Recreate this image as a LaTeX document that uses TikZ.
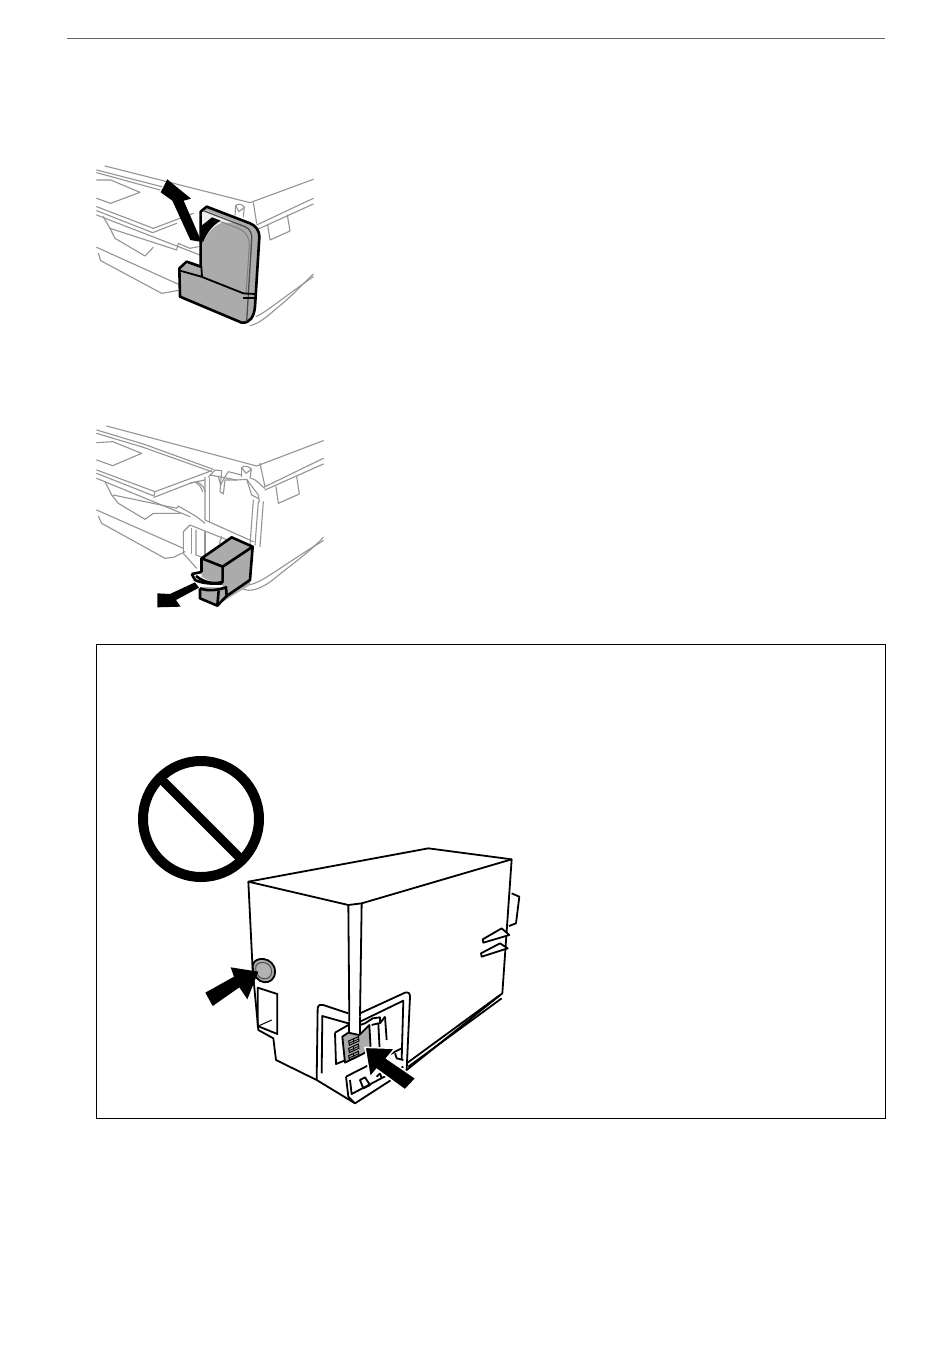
\documentclass[tikz,border=0pt]{standalone}
\tikzset{
 gl/.style={draw=black!42,line width=1.1pt,line join=round,line cap=round},
 bl/.style={draw=black,line width=1.8pt,line join=round},
 bk/.style={draw=black,line width=2.6pt,line join=round},
 arrowfill/.style={fill=black,draw=none},
 zoomed/.style={x=1pt/3,y=-1pt/3}
}
\begin{document}
\begin{tikzpicture}[x=1pt,y=-1pt]
\useasboundingbox (0,0) rectangle (950,1370);
\fill[white] (0,0) rectangle (950,1370);
\draw[black!60,line width=0.8pt] (67,38) -- (885,38);
\draw[black,line width=0.9pt] (96.5,644.5) rectangle (885,1118);
% --- figure 1
\begin{scope}[shift={(90,160)},zoomed]
\draw[gl] (45,18) -- (480,128) -- (670,58);
\draw[gl] (20,30) -- (215,80);
\draw[gl] (20,38) -- (210,90);
\draw[gl] (20,60) -- (62,60) -- (150,97) -- (62,130) -- (20,115);
\draw[gl] (20,140) -- (190,205) -- (310,160);
\draw[gl] (20,152) -- (188,218) -- (260,190);
\draw[gl] (20,165) -- (330,285);
\draw[gl] (40,170) -- (60,205) -- (75,235) -- (165,288) -- (190,262);
\draw[gl] (60,205) -- (260,270) -- (265,250) -- (300,265) -- (325,260);
\draw[gl] (20,262) -- (270,375);
\draw[gl] (25,280) -- (32,302) -- (215,400) -- (245,395) -- (270,390);
\draw[gl] (490,128) -- (500,190);
\draw[gl] (500,195) -- (670,115);
\draw[gl] (505,207) -- (670,132);
\draw[gl] (533,195) -- (540,240) -- (600,213) -- (592,165);
\draw[gl] (435,165) -- (437,137) .. controls (445,130) and (458,132) .. (463,142) -- (460,170);
\draw[gl] (437,137) -- (447,155) -- (463,142);
\draw[gl] (480,497) .. controls (510,490) and (530,470) .. (560,445) .. controls (610,405) and (640,370) .. (670,342);
\draw[gl] (498,470) .. controls (530,455) and (570,420) .. (670,350);
% tank: whole outline filled
\path[fill=black!33] (330,315) -- (305,305) -- (268,325) -- (270,410) -- (455,488) .. controls (480,490) and (492,470) .. (495,440) -- (508,230) .. controls (508,210) and (495,195) .. (480,190) -- (350,140) -- (332,155) -- cycle;
% white top-left panel of the tank
\path[fill=black!6] (336,155) -- (345,150) -- (440,188) -- (395,188) .. controls (370,198) and (350,220) .. (338,252) -- cycle;
\draw[bk] (332,155) -- (350,140) -- (480,190) .. controls (497,197) and (508,210) .. (508,232) -- (495,440) .. controls (492,470) and (480,490) .. (455,488) -- (270,410) -- (268,325) -- (290,305) -- (332,320) -- cycle;
% inner rim
\draw[black!70,line width=1.3pt,line join=round] (340,152) -- (465,200) .. controls (482,208) and (487,222) .. (485,240) -- (470,485);
\draw[black!50,line width=1pt] (392,185) -- (445,205) .. controls (465,212) and (478,230) .. (478,255) -- (468,405);
\draw[bl] (334,350) -- (460,400) -- (495,402);
\draw[bl] (460,414) -- (495,414);
\draw[bl] (270,332) -- (334,350);
\draw[bl] (334,320) -- (336,350);
\path[arrowfill] (330,200) .. controls (345,190) and (358,178) .. (366,172) -- (392,182) .. controls (365,198) and (350,220) .. (338,250) -- cycle;
\path[arrowfill] (232,58) -- (303,116) -- (281,122) -- (335,246) -- (301,240) -- (247,122) -- (212,97) -- cycle;
\end{scope}
% --- figure 2
\begin{scope}[shift={(90,420)},zoomed]
\draw[gl] (50,18) -- (500,138) -- (700,62);
\draw[gl] (20,30) -- (160,72) -- (370,148);
\draw[gl] (20,40) -- (160,82) -- (365,155);
\draw[gl] (20,68) -- (68,65) -- (155,100) -- (68,137) -- (20,120);
\draw[gl] (20,150) -- (195,215) -- (365,152);
\draw[gl] (195,215) -- (192,228) -- (20,160);
\draw[gl] (192,232) -- (300,190) -- (320,185) -- (345,180);
\draw[gl] (20,175) -- (300,290);
\draw[gl] (45,185) -- (65,225) -- (85,250) -- (165,298) -- (190,280) -- (270,280);
\draw[gl] (70,225) -- (260,265) -- (265,258) -- (320,290) -- (345,310);
\draw[gl] (20,270) -- (280,385);
\draw[gl] (25,288) -- (35,310) -- (225,415) -- (250,412) -- (285,395);
\draw[gl] (280,335) -- (300,315) -- (425,365);
\draw[gl] (280,335) -- (280,400) -- (320,445);
\draw[gl] (305,325) -- (305,400);
\draw[gl] (318,330) -- (318,405) -- (345,415);
\draw[gl] (345,335) -- (345,410);
\draw[gl] (395,350) -- (388,370);
\draw[gl] (345,172) -- (345,300) -- (490,365);
\draw[gl] (358,175) -- (358,305);
\draw[gl] (300,190) .. controls (320,180) and (340,190) .. (345,215);
\draw[gl] (320,190) .. controls (330,195) and (335,205) .. (338,215);
\draw[gl] (355,172) -- (375,150) -- (395,152) -- (390,215) -- (400,222) -- (405,180) -- (440,180) -- (470,178) -- (505,225) -- (508,245);
\draw[gl] (385,170) -- (392,195) -- (405,170) -- (415,155) -- (455,165);
\draw[gl] (360,165) -- (440,180);
\draw[gl] (470,178) -- (485,225) -- (505,235);
\draw[gl] (490,240) -- (480,375);
\draw[gl] (505,245) -- (495,375);
\draw[gl] (520,245) -- (510,380);
\draw[gl] (455,170) -- (455,143) .. controls (462,136) and (478,138) .. (484,148) -- (480,175);
\draw[gl] (455,143) -- (468,160) -- (484,148);
\draw[gl] (484,175) .. controls (500,178) and (515,200) .. (525,205);
\draw[gl] (510,130) -- (525,200) -- (700,115);
\draw[gl] (525,210) -- (700,132);
\draw[gl] (558,200) -- (565,250) -- (628,222) -- (620,170);
\draw[gl] (455,505) .. controls (480,520) and (520,505) .. (560,470) .. controls (610,430) and (660,395) .. (700,352);
\draw[gl] (470,495) .. controls (510,495) and (570,440) .. (700,362);
% cartridge
\path[fill=black!33] (335,415) -- (425,352) -- (488,380) -- (480,495) -- (382,555) -- (332,535) -- (332,505) -- (335,480) -- cycle;
% white strap gap
\path[fill=white] (335,470) .. controls (355,485) and (380,488) .. (398,485) -- (398,503) -- (340,500) -- (330,503) -- cycle;
\draw[bk] (335,415) -- (425,352) -- (488,380) -- (398,440) -- cycle;
\draw[bk] (335,415) -- (335,457);
\draw[bk] (398,440) -- (398,486) .. controls (375,492) and (345,490) .. (318,468);
\draw[bk] (305,462) -- (335,456);
\draw[bk] (305,462) -- (315,480) .. controls (340,492) and (375,492) .. (398,490);
\draw[bk] (488,380) -- (480,480) -- (410,528);
\draw[bk] (330,505) .. controls (355,515) and (385,510) .. (408,502) -- (410,528);
\draw[bk] (330,505) -- (330,535) -- (382,557) -- (410,528);
\draw[bk] (382,557) -- (386,512);
\path[arrowfill] (315,487) -- (327,503) -- (258,540) -- (272,560) -- (202,562) -- (202,520) -- (240,522) -- cycle;
\end{scope}
% --- prohibition sign
\draw[black,line width=10pt] (201,819) circle (58);
\draw[black,line width=9pt] (160,778) -- (242,860);
% --- cartridge
\begin{scope}[shift={(190,840)},zoomed]
\draw[bl,fill=white] (175,125) -- (715,25) -- (965,58) -- (937,460) -- (650,690) -- (495,790) -- (380,720) -- (258,660) -- (250,595) -- (205,570) -- (188,390) -- cycle;
\draw[bl] (175,125) -- (475,195) -- (515,190) -- (965,58);
\draw[bl] (475,195) -- (478,545);
\draw[bl] (515,190) -- (510,530);
\draw[bl] (965,160) -- (988,170) -- (978,250) -- (957,258);
\draw[bl,fill=white] (878,298) -- (935,265) -- (958,285) -- (880,308) -- cycle;
\draw[bl,fill=white] (873,340) -- (930,310) -- (953,325) -- (875,350) -- cycle;
\draw[bl,fill=black!33] (188,378) .. controls (190,345) and (255,350) .. (255,395) .. controls (255,440) and (190,440) .. (188,378);
\draw[black!70,line width=1pt,fill=black!30] (197,385) .. controls (195,360) and (245,360) .. (245,395) .. controls (245,425) and (197,425) .. (197,385);
\draw[bl] (203,443) -- (262,462) -- (262,582) -- (203,558) -- cycle;
\draw[black,line width=1pt] (205,558) -- (245,540);
\draw[bl] (380,720) -- (383,505) .. controls (384,495) and (392,492) .. (400,495) -- (475,520);
\draw[bl] (395,700) -- (397,528) -- (475,550);
\draw[bl] (510,520) -- (645,458) .. controls (655,455) and (660,460) .. (660,470) -- (650,690);
\draw[bl] (510,545) -- (640,482) -- (635,660);
\draw[bl] (468,710) -- (635,625);
\draw[bl] (468,710) -- (475,770) -- (495,790);
\draw[bl] (480,720) -- (485,762) -- (640,680);
\draw[bl] (510,720) -- (525,712) -- (540,735) -- (520,745) -- cycle;
\draw[bl] (560,710) -- (570,700) -- (575,715);
\draw[bl] (650,670) -- (930,465);
\draw[bl] (655,680) -- (935,475);
\draw[bl] (510,555) -- (525,550) -- (548,535) -- (570,532) -- (570,550) -- (585,530);
\draw[bl] (545,555) -- (565,550) -- (570,650);
\draw[bl] (585,530) -- (590,600);
\draw[bl] (615,640) -- (620,655) -- (640,660);
\draw[bl] (435,578) -- (475,555);
\draw[bl] (435,578) -- (438,672) -- (468,660);
\draw[bl,fill=black!33] (457,590) -- (475,578) -- (508,585) -- (538,555) -- (542,625) -- (522,640) -- (465,668) -- cycle;
\draw[bl] (478,545) -- (478,578);
\draw[bl] (510,530) -- (510,585);
\foreach \d in {0,22,44} {\draw[black,line width=1pt] (476,{603+\d}) -- (505,{590+\d}) -- (507,{603+\d}) -- (478,{616+\d}) -- cycle; \draw[black,line width=0.8pt] (477,{610+\d}) -- (506,{597+\d}); \draw[black,line width=0.8pt] (490,{597+\d}) -- (492,{610+\d});}
\path[arrowfill,draw=white,line width=1.5pt] (525,622) -- (615,625) -- (590,655) -- (678,715) -- (645,750) -- (560,688) -- (540,712) -- cycle;
\path[arrowfill] (205,395) -- (172,478) -- (148,442) -- (68,498) -- (46,458) -- (132,410) -- (122,382) -- cycle;
\end{scope}
\end{tikzpicture}
\end{document}
